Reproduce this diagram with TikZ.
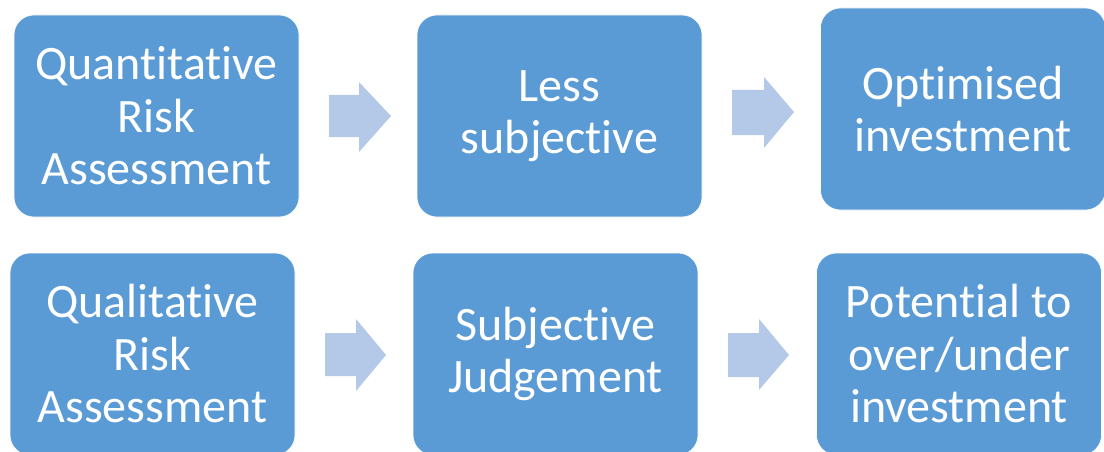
\documentclass[tikz,border=0pt]{standalone}
\usepackage{fontspec}
\setmainfont{Carlito}[Ligatures={NoCommon}]
\definecolor{boxblue}{HTML}{5B9BD5}
\definecolor{arrowblue}{HTML}{B4C8E7}
\begin{document}
\begin{tikzpicture}[x=1pt,y=-1pt,
  stepbox/.style={fill=boxblue, draw=white, line width=0.6pt, rounded corners=20pt,
    minimum width=285pt, minimum height=202pt, inner sep=0pt, text=white,
    align=center, font=\fontsize{48}{52.5}\selectfont},
  blockarrow/.style={fill=arrowblue}]
\useasboundingbox (0,0) rectangle (1104,452);

% top row
\node[stepbox] (quant) at (156.5,116) {Quantitative\\Risk\\Assessment};
\node[stepbox] (less)  at (559.5,116) {Less\\subjective};
\node[stepbox] (opt)   at (963,109)   {Optimised\\investment};

% bottom row
\node[stepbox] (qual)  at (152.5,354) {Qualitative\\Risk\\Assessment};
\node[stepbox] (subj)  at (555.5,354) {Subjective\\Judgement};
\node[stepbox] (pot)   at (959,354)   {Potential to\\over/under\\investment};

% block arrows between the steps
\fill[blockarrow] (329,95) -- (359,95) -- (359,82) -- (391,116) -- (359,152) -- (359,137) -- (329,137) -- cycle;
\fill[blockarrow] (732,90) -- (764,90) -- (764,77) -- (794,112) -- (764,148) -- (764,135) -- (732,135) -- cycle;
\fill[blockarrow] (325,333) -- (356,333) -- (356,319) -- (386,355) -- (356,391) -- (356,376) -- (325,376) -- cycle;
\fill[blockarrow] (728,333) -- (759,333) -- (759,319) -- (789,355) -- (759,390) -- (759,377) -- (728,377) -- cycle;
\end{tikzpicture}
\end{document}
